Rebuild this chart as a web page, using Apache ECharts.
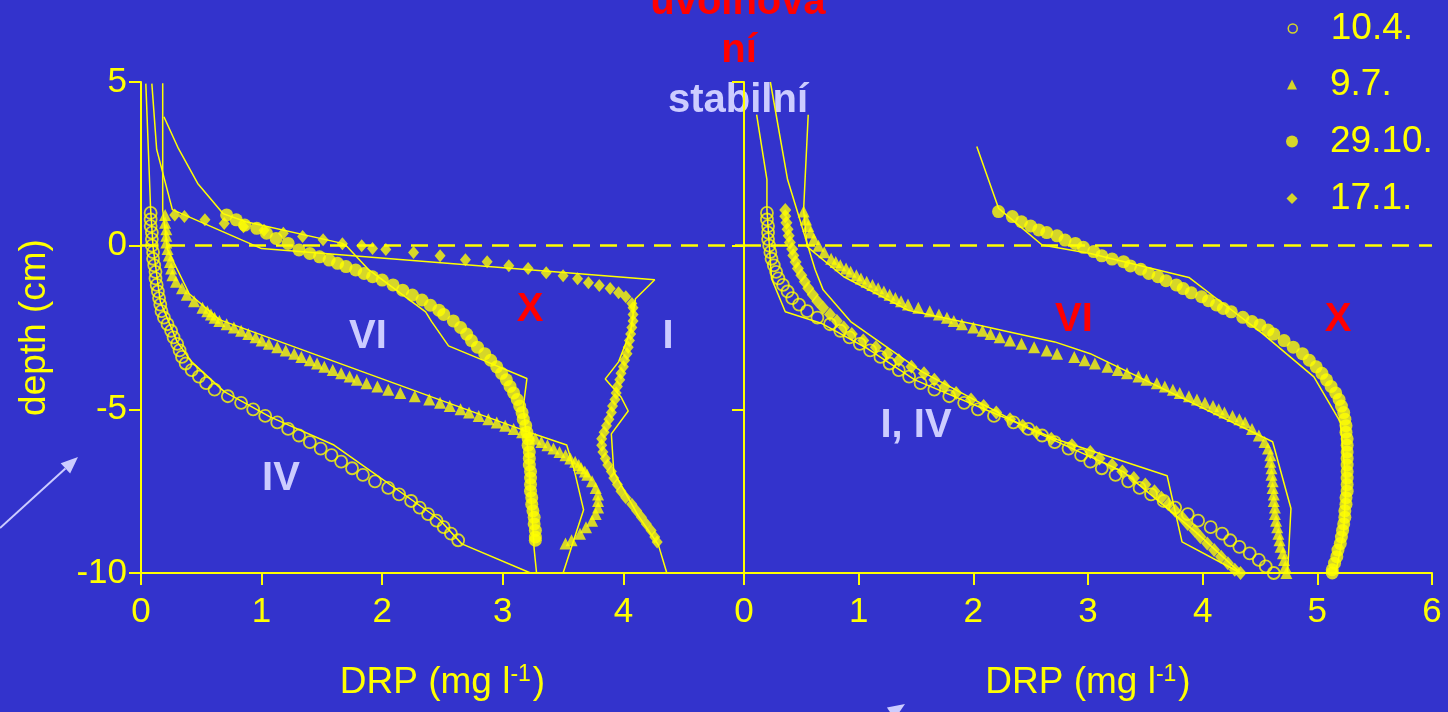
<!DOCTYPE html>
<html>
<head>
<meta charset="utf-8">
<script src="https://cdn.jsdelivr.net/npm/echarts@6/dist/echarts.min.js"></script>
<style>
  html, body { margin: 0; padding: 0; background: #3333cc; }
  #chart { width: 1448px; height: 712px; }
</style>
</head>
<body>
<div id="chart"></div>
<script>
// legend names (sampling dates)
const dates = ["10.4.", "9.7.", "29.10.", "17.1."];

// --- left panel, measured profiles [DRP, depth] ---
const leftApr = [[0.08,1.0],[0.08,0.8],[0.08,0.6],[0.09,0.4],[0.09,0.2],[0.09,0],[0.10,-0.2],[0.10,-0.4],[0.11,-0.6],[0.12,-0.8],
  [0.12,-1.0],[0.13,-1.2],[0.14,-1.4],[0.15,-1.6],[0.16,-1.8],[0.17,-2.0],[0.19,-2.2],[0.22,-2.4],[0.25,-2.6],[0.27,-2.8],
  [0.30,-3.0],[0.32,-3.2],[0.34,-3.4],[0.37,-3.6],[0.42,-3.8],[0.48,-4.0],[0.54,-4.2],[0.61,-4.4],[0.72,-4.6],[0.83,-4.8],
  [0.93,-5.0],[1.03,-5.2],[1.13,-5.4],[1.22,-5.6],[1.31,-5.8],[1.40,-6.0],[1.49,-6.2],[1.58,-6.4],[1.66,-6.6],[1.75,-6.8],
  [1.84,-7.0],[1.94,-7.2],[2.05,-7.4],[2.14,-7.6],[2.24,-7.8],[2.31,-8.0],[2.38,-8.2],[2.45,-8.4],[2.51,-8.6],[2.57,-8.8],[2.63,-9.0]];
const leftJul = [[0.20,0.94],[0.20,0.7],[0.21,0.5],[0.21,0.3],[0.21,0.1],[0.22,-0.1],[0.23,-0.3],[0.24,-0.5],[0.25,-0.7],[0.26,-0.9],
  [0.29,-1.1],[0.34,-1.3],[0.38,-1.5],[0.44,-1.7],[0.51,-1.9],[0.55,-2.0],[0.58,-2.1],[0.61,-2.2],[0.65,-2.3],[0.71,-2.4],
  [0.77,-2.5],[0.83,-2.6],[0.89,-2.7],[0.95,-2.8],[1.00,-2.9],[1.06,-3.0],[1.13,-3.1],[1.20,-3.2],[1.27,-3.3],[1.33,-3.4],
  [1.40,-3.5],[1.46,-3.6],[1.52,-3.7],[1.59,-3.8],[1.66,-3.9],[1.73,-4.0],[1.79,-4.1],[1.87,-4.2],[1.96,-4.3],[2.05,-4.4],
  [2.15,-4.5],[2.27,-4.6],[2.39,-4.7],[2.48,-4.8],[2.56,-4.9],[2.65,-5.0],[2.72,-5.1],[2.80,-5.2],[2.88,-5.3],[2.95,-5.4],
  [3.02,-5.5],[3.09,-5.6],[3.16,-5.7],[3.22,-5.8],[3.27,-5.9],[3.32,-6.0],[3.37,-6.1],[3.42,-6.2],[3.47,-6.3],[3.52,-6.4],
  [3.56,-6.5],[3.60,-6.6],[3.63,-6.7],[3.65,-6.8],[3.68,-6.9],[3.70,-7.0],[3.74,-7.2],[3.77,-7.4],[3.79,-7.6],[3.79,-7.8],
  [3.79,-8.0],[3.77,-8.2],[3.74,-8.4],[3.69,-8.6],[3.64,-8.8],[3.57,-9.0],[3.52,-9.1]];
const leftOct = [[0.71,0.94],[0.79,0.79],[0.86,0.63],[0.96,0.53],[1.04,0.38],[1.12,0.22],[1.22,0.07],[1.31,-0.13],[1.40,-0.24],[1.48,-0.34],
  [1.56,-0.44],[1.63,-0.54],[1.70,-0.64],[1.78,-0.74],[1.85,-0.85],[1.92,-0.95],[2.00,-1.05],[2.09,-1.20],[2.17,-1.36],[2.25,-1.51],
  [2.33,-1.66],[2.40,-1.82],[2.47,-1.97],[2.51,-2.1],[2.59,-2.3],[2.65,-2.5],[2.70,-2.7],[2.74,-2.9],[2.79,-3.1],[2.85,-3.3],
  [2.90,-3.5],[2.95,-3.7],[2.99,-3.9],[3.03,-4.1],[3.06,-4.3],[3.09,-4.5],[3.12,-4.7],[3.14,-4.9],[3.16,-5.1],[3.17,-5.3],
  [3.19,-5.5],[3.20,-5.7],[3.21,-5.9],[3.21,-6.1],[3.22,-6.3],[3.22,-6.5],[3.22,-6.7],[3.23,-6.9],[3.23,-7.1],[3.23,-7.3],
  [3.23,-7.5],[3.24,-7.7],[3.24,-7.9],[3.25,-8.1],[3.26,-8.3],[3.26,-8.5],[3.27,-8.7],[3.27,-8.9],[3.27,-9.0]];
const leftJan = [[0.28,0.94],[0.36,0.89],[0.53,0.79],[0.69,0.68],[0.85,0.58],[1.02,0.47],[1.18,0.38],[1.34,0.28],[1.51,0.18],[1.67,0.06],
  [1.83,0],[1.92,-0.09],[2.03,-0.12],[2.26,-0.21],[2.48,-0.31],[2.69,-0.43],[2.87,-0.49],[3.05,-0.61],[3.21,-0.70],[3.36,-0.83],
  [3.50,-0.92],[3.62,-1.01],[3.71,-1.13],[3.80,-1.22],[3.89,-1.31],[3.96,-1.44],[4.02,-1.56],[4.07,-1.77],[4.08,-1.9],[4.08,-2.1],
  [4.08,-2.3],[4.07,-2.5],[4.06,-2.7],[4.05,-2.9],[4.04,-3.1],[4.03,-3.3],[4.01,-3.5],[4.00,-3.7],[3.98,-3.9],[3.97,-4.1],
  [3.95,-4.3],[3.94,-4.5],[3.93,-4.7],[3.91,-4.9],[3.90,-5.1],[3.88,-5.3],[3.86,-5.5],[3.84,-5.7],[3.82,-5.9],[3.82,-6.1],
  [3.83,-6.3],[3.85,-6.5],[3.87,-6.7],[3.90,-6.9],[3.92,-7.1],[3.95,-7.3],[3.98,-7.5],[4.02,-7.7],[4.07,-7.9],[4.11,-8.1],
  [4.15,-8.3],[4.19,-8.5],[4.23,-8.7],[4.26,-8.9],[4.28,-9.05]];

// --- left panel, fitted profiles (thin lines) ---
const leftAprLine = [[0.04,4.95],[0.08,1.10],[0.10,-0.03],[0.16,-1.71],[0.30,-2.94],[0.42,-3.55],[0.69,-4.46],[1.07,-5.23],[1.60,-6.09],[2.47,-8.35],[2.66,-9.11],[3.23,-10]];
const leftJulLine = [[0.18,4.96],[0.18,1.09],[0.22,-0.12],[0.40,-1.47],[0.65,-2.26],[2.41,-4.62],[3.21,-5.69],[3.53,-6.09],[3.59,-6.82],[3.67,-8.07],[3.50,-10]];
const leftOctLine = [[0.19,3.94],[0.31,2.97],[0.47,1.90],[0.68,0.98],[0.87,0.73],[1.67,0.07],[1.71,-0.03],[1.89,-0.74],[2.36,-2.02],[2.41,-2.32],[2.55,-3.06],[2.83,-3.49],[3.20,-4.06],[3.17,-4.92],[3.21,-6.3],[3.26,-9.27],[3.28,-10]];
const leftJanLine = [[0.09,4.95],[0.13,2.94],[0.26,1.10],[1.00,-0.09],[4.26,-1.04],[4.10,-1.62],[4.06,-2.6],[3.96,-3.55],[3.85,-4.07],[3.98,-4.62],[4.04,-5.05],[3.90,-5.75],[3.92,-6.9],[4.12,-8.23],[4.29,-9.14],[4.36,-10]];

// --- right panel, measured profiles ---
const rightApr = [[0.20,1.0],[0.20,0.8],[0.21,0.6],[0.21,0.4],[0.21,0.2],[0.22,0],[0.23,-0.2],[0.24,-0.4],[0.26,-0.6],[0.28,-0.8],
  [0.30,-1.0],[0.34,-1.2],[0.38,-1.4],[0.42,-1.6],[0.48,-1.8],[0.55,-2.0],[0.64,-2.2],[0.75,-2.4],[0.84,-2.6],[0.92,-2.8],
  [1.01,-3.0],[1.10,-3.2],[1.19,-3.4],[1.27,-3.6],[1.35,-3.8],[1.44,-4.0],[1.54,-4.2],[1.66,-4.4],[1.79,-4.6],[1.92,-4.8],
  [2.04,-5.0],[2.18,-5.2],[2.35,-5.4],[2.48,-5.6],[2.60,-5.8],[2.71,-6.0],[2.83,-6.2],[2.94,-6.4],[3.02,-6.6],[3.12,-6.8],
  [3.24,-7.0],[3.35,-7.2],[3.45,-7.4],[3.55,-7.6],[3.66,-7.8],[3.76,-8.0],[3.87,-8.2],[3.96,-8.4],[4.07,-8.6],[4.17,-8.8],
  [4.24,-9.0],[4.32,-9.2],[4.41,-9.4],[4.49,-9.6],[4.55,-9.8],[4.62,-10.0]];
const rightJul = [[0.52,1.04],[0.54,0.8],[0.56,0.6],[0.58,0.4],[0.61,0.2],[0.65,0],[0.70,-0.2],[0.76,-0.4],[0.80,-0.5],[0.84,-0.6],
  [0.89,-0.7],[0.93,-0.8],[0.98,-0.9],[1.02,-1.0],[1.07,-1.1],[1.12,-1.2],[1.17,-1.3],[1.22,-1.4],[1.27,-1.5],[1.32,-1.6],
  [1.37,-1.7],[1.43,-1.8],[1.52,-1.9],[1.62,-2.0],[1.70,-2.1],[1.77,-2.2],[1.83,-2.3],[1.90,-2.4],[2.00,-2.5],[2.08,-2.6],
  [2.15,-2.7],[2.23,-2.8],[2.32,-2.9],[2.42,-3.0],[2.53,-3.1],[2.64,-3.2],[2.73,-3.3],[2.88,-3.4],[2.97,-3.5],[3.06,-3.6],
  [3.17,-3.7],[3.26,-3.8],[3.34,-3.9],[3.44,-4.0],[3.51,-4.1],[3.60,-4.2],[3.67,-4.3],[3.74,-4.4],[3.80,-4.5],[3.88,-4.6],
  [3.95,-4.7],[4.02,-4.8],[4.09,-4.9],[4.14,-5.0],[4.19,-5.1],[4.26,-5.2],[4.32,-5.3],[4.37,-5.4],[4.43,-5.6],[4.49,-5.8],
  [4.54,-6.0],[4.57,-6.2],[4.59,-6.4],[4.59,-6.6],[4.60,-6.8],[4.60,-7.0],[4.61,-7.2],[4.61,-7.4],[4.62,-7.6],[4.62,-7.8],
  [4.63,-8.0],[4.63,-8.2],[4.64,-8.4],[4.65,-8.6],[4.66,-8.8],[4.67,-9.0],[4.68,-9.2],[4.70,-9.4],[4.71,-9.6],[4.72,-9.8],[4.73,-10.0]];
const rightOct = [[2.22,1.04],[2.34,0.89],[2.42,0.73],[2.50,0.60],[2.57,0.48],[2.64,0.40],[2.73,0.30],[2.80,0.17],[2.89,0.07],[2.96,-0.05],
  [3.05,-0.18],[3.12,-0.31],[3.21,-0.41],[3.31,-0.49],[3.37,-0.62],[3.46,-0.72],[3.53,-0.85],[3.61,-0.95],[3.68,-1.07],[3.77,-1.20],
  [3.83,-1.31],[3.90,-1.44],[3.99,-1.56],[4.05,-1.68],[4.12,-1.81],[4.18,-1.92],[4.25,-2.02],[4.35,-2.19],[4.43,-2.32],[4.50,-2.42],
  [4.57,-2.58],[4.62,-2.7],[4.71,-2.9],[4.79,-3.1],[4.87,-3.3],[4.93,-3.5],[4.99,-3.7],[5.04,-3.9],[5.08,-4.1],[5.12,-4.3],
  [5.16,-4.5],[5.19,-4.7],[5.21,-4.9],[5.23,-5.1],[5.24,-5.3],[5.25,-5.5],[5.25,-5.7],[5.26,-5.9],[5.26,-6.1],[5.26,-6.3],
  [5.26,-6.5],[5.26,-6.7],[5.26,-6.9],[5.26,-7.1],[5.26,-7.3],[5.26,-7.5],[5.25,-7.7],[5.25,-7.9],[5.24,-8.1],[5.24,-8.3],
  [5.23,-8.5],[5.22,-8.7],[5.21,-8.9],[5.20,-9.1],[5.18,-9.3],[5.17,-9.5],[5.15,-9.7],[5.13,-9.9],[5.13,-10.0]];
const rightJan = [[0.36,1.09],[0.36,0.9],[0.37,0.7],[0.38,0.5],[0.39,0.3],[0.40,0.1],[0.42,-0.1],[0.43,-0.3],[0.45,-0.5],[0.47,-0.7],
  [0.50,-0.9],[0.53,-1.1],[0.56,-1.3],[0.60,-1.5],[0.64,-1.7],[0.69,-1.9],[0.75,-2.1],[0.81,-2.3],[0.87,-2.5],[0.94,-2.7],
  [1.04,-2.9],[1.15,-3.1],[1.25,-3.3],[1.35,-3.5],[1.46,-3.7],[1.57,-3.9],[1.66,-4.1],[1.75,-4.3],[1.85,-4.5],[1.98,-4.7],
  [2.09,-4.9],[2.20,-5.1],[2.32,-5.3],[2.43,-5.5],[2.55,-5.7],[2.68,-5.9],[2.86,-6.1],[3.02,-6.3],[3.10,-6.5],[3.21,-6.7],
  [3.30,-6.9],[3.40,-7.1],[3.50,-7.3],[3.58,-7.5],[3.64,-7.7],[3.70,-7.9],[3.76,-8.1],[3.82,-8.3],[3.87,-8.5],[3.93,-8.7],
  [3.98,-8.9],[4.04,-9.1],[4.10,-9.3],[4.16,-9.5],[4.22,-9.7],[4.28,-9.9],[4.33,-10.0]];

// --- right panel, fitted profiles ---
const rightAprLine = [[0.11,4.0],[0.20,2.02],[0.20,1.10],[0.24,-1.00],[0.36,-2.02],[0.68,-2.38],[1.08,-3.15],[1.49,-4.10],[2.71,-5.90],[3.69,-7.03],[3.82,-9.05],[4.33,-10]];
const rightJulLine = [[0.56,4.0],[0.52,1.10],[0.55,-0.03],[0.87,-0.95],[1.43,-1.97],[2.05,-2.43],[2.71,-2.94],[3.02,-3.30],[4.61,-5.99],[4.77,-8.03],[4.74,-10]];
const rightOctLine = [[2.03,3.03],[2.22,1.14],[2.60,0.02],[3.02,-0.24],[3.88,-0.97],[4.10,-1.56],[4.52,-2.68],[4.97,-4.01],[5.20,-5.38],[5.25,-7.22],[5.23,-8.75],[5.16,-10]];
const rightJanLine = [[0.23,5.0],[0.38,2.02],[0.62,-0.73],[0.69,-1.35],[0.93,-2.32],[1.55,-3.85],[2.48,-5.59],[3.31,-6.91],[3.94,-8.75],[4.33,-10]];

// axis ranges / ticks
const depthMin = -10, depthMax = 5, depthStep = 5;
const leftDrpMax = 5, rightDrpMax = 6;

const Y = "#ffff00";
const LAV = "#ccccff";
const RED = "#ff0000";
const BG = "#3333cc";
const FONT = "Liberation Sans, Arial, Helvetica, sans-serif";

const chart = echarts.init(document.getElementById("chart"));

function markers(name, data, g, symbol, size, hollow) {
  return {
    name: name, type: "scatter", xAxisIndex: g, yAxisIndex: g,
    data: data, symbol: symbol, symbolSize: size, silent: true, z: 3,
    itemStyle: hollow ? { color: "rgba(0,0,0,0)", borderColor: Y, borderWidth: 1.8 } : { color: Y }
  };
}
function fitLine(name, data, g) {
  return {
    name: name, type: "line", xAxisIndex: g, yAxisIndex: g, data: data,
    symbol: "none", silent: true, z: 2, lineStyle: { color: Y, width: 1.5 }
  };
}
function zeroLine(g) {
  // dashed sediment-water interface at depth 0
  return {
    type: "line", xAxisIndex: g, yAxisIndex: g, data: [], silent: true,
    markLine: {
      silent: true, symbol: "none", label: { show: false },
      lineStyle: { color: Y, width: 2.5, type: [17, 10] },
      data: [{ yAxis: 0 }]
    }
  };
}
function arrow(x1, y1, x2, y2) {
  const dx = x2 - x1, dy = y2 - y1, L = Math.hypot(dx, dy);
  const ux = dx / L, uy = dy / L, hl = 17, hw = 7;
  const bx = x2 - ux * hl, by = y2 - uy * hl;
  return [
    { type: "line", shape: { x1: x1, y1: y1, x2: bx, y2: by }, style: { stroke: LAV, lineWidth: 2 } },
    { type: "polygon", shape: { points: [[x2, y2], [bx - uy * hw, by + ux * hw], [bx + uy * hw, by - ux * hw]] }, style: { fill: LAV } }
  ];
}
function label(text, x, y, color) {
  return { type: "text", x: x, y: y, style: { text: text, fill: color, font: "bold 40px " + FONT, textAlign: "center", textVerticalAlign: "middle" } };
}

const axisCommon = {
  type: "value",
  axisLine: { show: true, onZero: false, lineStyle: { color: Y, width: 2 } },
  axisTick: { show: true, inside: false, length: 12, lineStyle: { color: Y, width: 2 } },
  splitLine: { show: false }
};
const tickFont = { color: Y, fontSize: 35, fontFamily: FONT };
const drpName = {
  name: "DRP (mg l{sup|-1})", nameLocation: "middle", nameGap: 90,
  nameTextStyle: { color: Y, fontSize: 37, fontFamily: FONT,
    rich: { sup: { color: Y, fontSize: 23, fontFamily: FONT, verticalAlign: "top", padding: [0, 2, 16, 0] } } }
};

const legendIcons = [
  { icon: "circle", size: 9, itemStyle: { color: BG, borderColor: Y, borderWidth: 1.5 }, top: 5 },
  { icon: "triangle", size: 10, itemStyle: { color: Y }, top: 61 },
  { icon: "circle", size: 12, itemStyle: { color: Y }, top: 118 },
  { icon: "diamond", size: 11, itemStyle: { color: Y }, top: 175 }
];

chart.setOption({
  backgroundColor: BG,
  animation: false,
  grid: [
    { left: 141, top: 82, width: 603, height: 491 },
    { left: 744, top: 82, width: 688, height: 491 }
  ],
  xAxis: [
    Object.assign({}, axisCommon, drpName, { gridIndex: 0, min: 0, max: leftDrpMax, interval: 1,
      axisLabel: Object.assign({ margin: 22, showMaxLabel: false }, tickFont) }),
    Object.assign({}, axisCommon, drpName, { gridIndex: 1, min: 0, max: rightDrpMax, interval: 1,
      axisLabel: Object.assign({ margin: 22, showMaxLabel: true }, tickFont) })
  ],
  yAxis: [
    Object.assign({}, axisCommon, { gridIndex: 0, min: depthMin, max: depthMax, interval: depthStep,
      axisLabel: Object.assign({ margin: 14 }, tickFont),
      name: "depth (cm)", nameLocation: "middle", nameRotate: 90, nameGap: 88,
      nameTextStyle: { color: Y, fontSize: 37, fontFamily: FONT } }),
    Object.assign({}, axisCommon, { gridIndex: 1, min: depthMin, max: depthMax, interval: depthStep,
      axisLabel: { show: false } })
  ],
  legend: legendIcons.map(function (d, i) {
    return {
      data: [{ name: dates[i], icon: d.icon, itemStyle: d.itemStyle }],
      left: 1287 - d.size / 2, top: d.top, itemWidth: d.size, itemHeight: d.size,
      textStyle: { color: Y, fontSize: 37, fontFamily: FONT, padding: [0, 0, 0, 33 - d.size / 2] }
    };
  }),
  series: [
    zeroLine(0), zeroLine(1),
    fitLine("fit 10.4. L", leftAprLine, 0),
    fitLine("fit 9.7. L", leftJulLine, 0),
    fitLine("fit 29.10. L", leftOctLine, 0),
    fitLine("fit 17.1. L", leftJanLine, 0),
    fitLine("fit 10.4. R", rightAprLine, 1),
    fitLine("fit 9.7. R", rightJulLine, 1),
    fitLine("fit 29.10. R", rightOctLine, 1),
    fitLine("fit 17.1. R", rightJanLine, 1),
    markers(dates[0], leftApr, 0, "circle", 12, true),
    markers(dates[1], leftJul, 0, "triangle", 12, false),
    markers(dates[2], leftOct, 0, "circle", 13, false),
    markers(dates[3], leftJan, 0, "diamond", [11, 13], false),
    markers(dates[0], rightApr, 1, "circle", 12, true),
    markers(dates[1], rightJul, 1, "triangle", 12, false),
    markers(dates[2], rightOct, 1, "circle", 13, false),
    markers(dates[3], rightJan, 1, "diamond", [12, 14], false)
  ],
  graphic: [].concat(
    [
      label("uvolňová", 738, 3, RED),
      label("ní", 739, 51, RED),
      label("stabilní", 738, 101, LAV),
      label("VI", 368, 337, LAV),
      label("X", 530, 310, RED),
      label("I", 668, 337, LAV),
      label("IV", 281, 479, LAV),
      label("VI", 1074, 320, RED),
      label("X", 1338, 320, RED),
      label("I, IV", 916, 426, LAV)
    ],
    arrow(0, 528, 78, 457),
    arrow(862, 732, 905, 704)
  )
});
</script>
</body>
</html>
